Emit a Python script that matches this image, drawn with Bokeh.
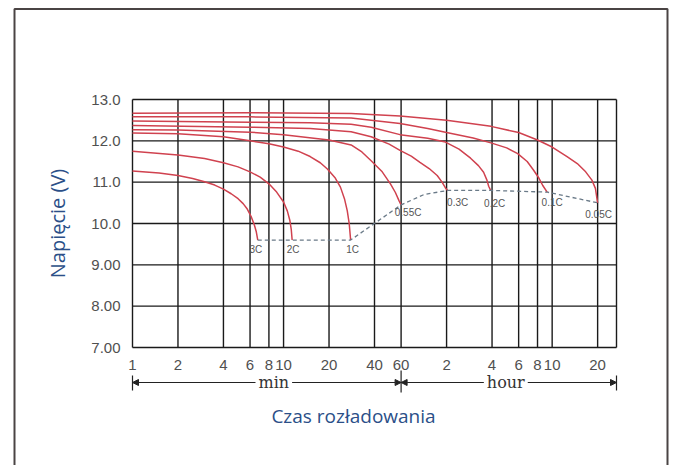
import math
from bokeh.plotting import figure
from bokeh.models import (Range1d, FixedTicker, Label, Arrow, NormalHead,
                          BoxAnnotation, LogAxis, LinearAxis)
from bokeh.core.properties import value
from bokeh.embed import file_html
from bokeh.resources import INLINE

# ---------------- data (time in minutes, voltage in V) ----------------
rates = ["3C", "2C", "1C", "0.55C", "0.3C", "0.2C", "0.1C", "0.05C"]

t_3C = [1, 1.5, 2, 2.5, 3, 3.5, 4, 4.5, 5, 5.4, 5.75, 6.1, 6.4, 6.6, 6.75]
v_3C = [11.27, 11.22, 11.16, 11.09, 11.01, 10.93, 10.83, 10.72, 10.6, 10.48,
        10.35, 10.17, 9.97, 9.8, 9.6]

t_2C = [1, 2, 3, 4, 5, 6, 7, 8, 9, 10, 10.6, 11, 11.25, 11.4]
v_2C = [11.75, 11.66, 11.57, 11.47, 11.37, 11.25, 11.12, 10.96, 10.76, 10.52,
        10.3, 10.08, 9.85, 9.6]

t_1C = [1, 2, 4, 6, 8, 10, 12.5, 15, 17.5, 19.5, 22, 23.8, 25.3, 26.4, 27.2, 27.8]
v_1C = [12.19, 12.17, 12.1, 12.0, 11.93, 11.85, 11.75, 11.62, 11.47, 11.32,
        11.1, 10.88, 10.6, 10.31, 10.0, 9.6]

t_055C = [1, 2, 6, 10, 20, 28, 33, 38, 45, 51, 55, 58, 60]
v_055C = [12.27, 12.26, 12.21, 12.15, 12.02, 11.9, 11.73, 11.52, 11.25, 10.96,
          10.75, 10.56, 10.45]

t_03C = [1, 6, 15, 28, 38, 50, 59, 70, 80, 92, 104, 112, 118, 122]
v_03C = [12.37, 12.33, 12.3, 12.22, 12.1, 11.92, 11.77, 11.63, 11.48, 11.33,
         11.16, 11.0, 10.86, 10.8]

t_02C = [1, 6, 15, 28, 38, 59, 90, 118, 145, 173, 195, 211, 222, 228, 235]
v_02C = [12.48, 12.45, 12.44, 12.4, 12.33, 12.15, 12.06, 11.97, 11.8, 11.58,
         11.4, 11.24, 11.05, 10.9, 10.8]

t_01C = [1, 6, 28, 59, 90, 120, 180, 236, 300, 355, 410, 450, 490, 520, 556]
v_01C = [12.58, 12.58, 12.55, 12.42, 12.3, 12.2, 12.07, 11.95, 11.83, 11.69,
         11.5, 11.3, 11.1, 10.92, 10.76]

t_005C = [1, 6, 28, 59, 120, 236, 360, 480, 600, 753, 880, 1000, 1100, 1160, 1200]
v_005C = [12.67, 12.68, 12.66, 12.6, 12.5, 12.35, 12.2, 12.02, 11.85, 11.62,
          11.45, 11.25, 11.05, 10.85, 10.5]

# end-of-discharge (cut-off) dashed line
cut_t = [6.75, 11.4, 27.8, 60, 85, 122, 235, 556, 1200]
cut_v = [9.6, 9.6, 9.6, 10.45, 10.7, 10.8, 10.8, 10.76, 10.5]

# axis ticks
x_ticks = [1, 2, 4, 6, 8, 10, 20, 40, 60, 120, 240, 360, 480, 600, 1200]
x_tick_labels = ["1", "2", "4", "6", "8", "10", "20", "40", "60",
                 "2", "4", "6", "8", "10", "20"]
y_ticks = [7, 8, 9, 10, 11, 12, 13]
y_tick_labels = ["7.00", "8.00", "9.00", "10.0", "11.0", "12.0", "13.0"]
x_limits = [1, 1600]

# time unit spans
span_edges = [1, 60, 1600]
span_names = ["min", "hour"]

curves_t = [t_3C, t_2C, t_1C, t_055C, t_03C, t_02C, t_01C, t_005C]
curves_v = [v_3C, v_2C, v_1C, v_055C, v_03C, v_02C, v_01C, v_005C]

# ---------------- layout / style ----------------
W, H = 672, 465
CH_L, CH_R, CH_T, CH_B = 132, 616, 99, 347       # chart box in pixels
PX_DEC = (CH_R - CH_L) / math.log10(x_limits[1] / x_limits[0])
PX_V = (CH_B - CH_T) / (y_ticks[-1] - y_ticks[0])


def t_at(px):
    return x_limits[0] * 10 ** ((px - CH_L) / PX_DEC)


def v_at(py):
    return y_ticks[-1] - (py - CH_T) / PX_V


lab_dx = [-2, 1, 2, 7, 10, 4, 5, 1]
lab_dy = [9, 9, 9, 8, 12, 13, 10, 12]
span_label_dx = [7, -3]

RED = "#d0424f"
BLUE = "#2b4f88"
GRID = "#1a1a1a"
INK = "#222222"

p = figure(width=W, height=H, x_axis_type="log",
           x_range=Range1d(t_at(0), t_at(W)), y_range=Range1d(v_at(H), v_at(0)),
           x_axis_location=None, y_axis_location=None,
           output_backend="svg", toolbar_location=None, min_border=0)
p.background_fill_color = "white"
p.border_fill_color = "white"
p.outline_line_color = None
p.xgrid.visible = False
p.ygrid.visible = False

# grid lines (bounded to the chart)
gx = x_ticks + [x_limits[1]]
p.segment(x0=gx, x1=gx, y0=[y_ticks[0]] * len(gx), y1=[y_ticks[-1]] * len(gx),
          line_color=GRID, line_width=1.4)
p.segment(x0=[x_limits[0]] * len(y_ticks), x1=[x_limits[1]] * len(y_ticks),
          y0=y_ticks, y1=y_ticks, line_color=GRID, line_width=1.4)

# axes fixed on the chart edges
xa = LogAxis(fixed_location=y_ticks[0], ticker=FixedTicker(ticks=x_ticks))
xa.major_label_overrides = {t: l for t, l in zip(x_ticks, x_tick_labels)}
ya = LinearAxis(fixed_location=x_limits[0], ticker=FixedTicker(ticks=y_ticks))
ya.major_label_overrides = {t: l for t, l in zip(y_ticks, y_tick_labels)}
for a in (xa, ya):
    a.axis_line_color = None
    a.major_tick_line_color = None
    a.minor_tick_line_color = None
    a.major_tick_in = 0
    a.major_tick_out = 0
    a.major_label_text_font = "Liberation Sans"
    a.major_label_text_font_size = "15px"
    a.major_label_text_color = "#505050"
    a.major_label_standoff = 12
p.add_layout(xa, "below")
p.add_layout(ya, "left")

# curves
for t, v in zip(curves_t, curves_v):
    p.line(t, v, line_color=RED, line_width=1.5)

# cut-off dashed line
p.line(cut_t, cut_v, line_color="#6a7a88", line_width=1.3, line_dash="4 3")

# rate labels at curve ends
end_t = [t[-1] for t in curves_t]
end_v = [v[-1] for v in curves_v]
p.text(x=end_t, y=end_v, text=rates, x_offset=lab_dx, y_offset=lab_dy,
       text_align="center", text_baseline="middle",
       text_font=value("Liberation Sans"), text_font_size="10px",
       text_color="#555555")

# min / hour span arrows below the axis
y_line = v_at(382)
for i, name in enumerate(span_names):
    a0, a1 = span_edges[i], span_edges[i + 1]
    mid = (a0 * a1) ** 0.5
    for edge in (a0, a1):
        p.add_layout(Arrow(x_start=mid, y_start=y_line, x_end=edge, y_end=y_line,
                           start=None,
                           end=NormalHead(size=6, line_color=INK, fill_color=INK),
                           line_color=INK, line_width=1))
    p.add_layout(Label(x=mid, y=y_line, x_offset=span_label_dx[i], text=name,
                       text_align="center", text_baseline="middle",
                       text_font="DejaVu Serif", text_font_size="16px",
                       text_color="#333333", background_fill_color="white",
                       padding=3))
for k, edge in enumerate(span_edges):
    top_px, bot_px = (370, 392) if k == 1 else (375, 390)
    p.add_layout(Arrow(x_start=edge, y_start=v_at(top_px), x_end=edge, y_end=v_at(bot_px),
                       start=None, end=None, line_color=INK, line_width=1.2))

# titles
p.add_layout(Label(x=t_at(353), y=v_at(415), text="Czas rozładowania",
                   text_align="center", text_baseline="middle",
                   text_font="Open Sans", text_font_size="19px", text_color=BLUE))
p.add_layout(Label(x=t_at(57), y=v_at(223), text="Napięcie (V)", angle=math.pi / 2,
                   text_align="center", text_baseline="middle",
                   text_font="Open Sans", text_font_size="20px", text_color=BLUE))

# outer frame
p.add_layout(BoxAnnotation(left=t_at(14), right=t_at(667), top=v_at(8.5),
                           bottom=v_at(600), fill_color=None, fill_alpha=0,
                           line_color="#4a4444", line_alpha=1.0, line_width=2))

open("out.html", "w").write(file_html(p, INLINE))
